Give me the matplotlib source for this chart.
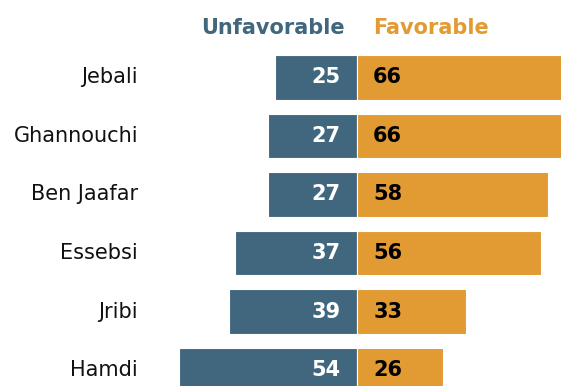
import matplotlib
matplotlib.use("Agg")
import matplotlib.pyplot as plt

names = ["Jebali", "Ghannouchi", "Ben Jaafar", "Essebsi", "Jribi", "Hamdi"]
unfavorable = [25, 27, 27, 37, 39, 54]
favorable = [66, 66, 58, 56, 33, 26]

BLUE = "#41677f"
ORANGE = "#e29a33"

fig = plt.figure(figsize=(5.61, 3.86), dpi=100)
ax = fig.add_axes([0, 0, 1, 1])
ax.set_xlim(-108.5, 62.0)
ax.set_ylim(5.268, -1.319)
ax.axis("off")

ys = list(range(len(names)))
h = 0.76
ax.barh(ys, [-u for u in unfavorable], height=h, color=BLUE,
        edgecolor="white", linewidth=0.8)
ax.barh(ys, favorable, height=h, color=ORANGE,
        edgecolor="white", linewidth=0.8)

fs = 15
for y, n, u, f in zip(ys, names, unfavorable, favorable):
    ax.text(-66.5, y, n, ha="right", va="center", fontsize=fs, color="#111111")
    ax.text(-5, y, str(u), ha="right", va="center", fontsize=fs,
            fontweight="bold", color="white")
    ax.text(4.9, y, str(f), ha="left", va="center", fontsize=fs,
            fontweight="bold", color="black")

ax.text(-3.6, -0.84, "Unfavorable", ha="right", va="center", fontsize=fs,
        fontweight="bold", color=BLUE)
ax.text(4.9, -0.84, "Favorable", ha="left", va="center", fontsize=fs,
        fontweight="bold", color=ORANGE)

fig.savefig("out.png", dpi=100)
